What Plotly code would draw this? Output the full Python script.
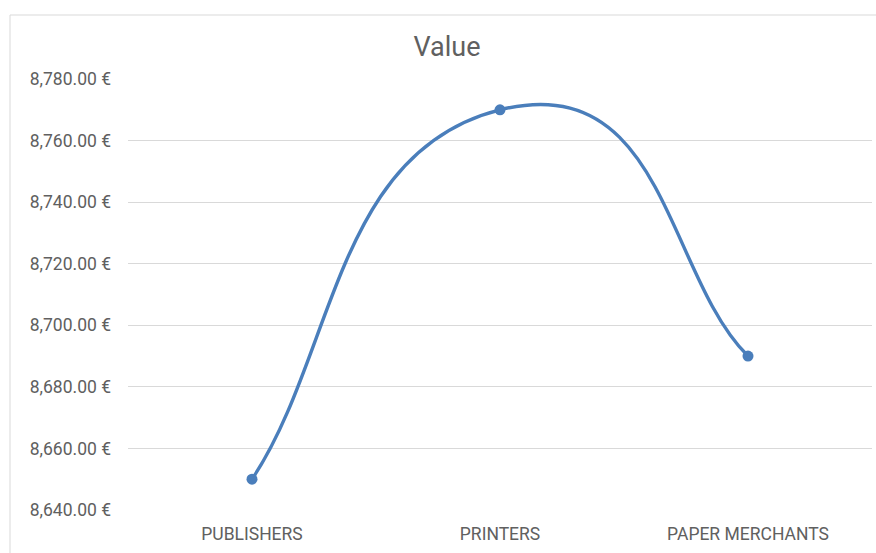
import plotly.graph_objects as go

categories = ["PUBLISHERS", "PRINTERS", "PAPER MERCHANTS"]
values = [8650, 8770, 8690]
y_ticks = [8640, 8660, 8680, 8700, 8720, 8740, 8760, 8780]
y_tick_text = [f"{v:,.2f} €" for v in y_ticks]

W, H = 876, 553
L, R, T, B = 128, 4, 79, 43
plot_w = W - L - R
plot_h = H - T - B
LINE_COLOR = "#4a7ebb"
TEXT_COLOR = "#606060"


def smooth_path(ys, k=1.0 / 3.0):
    """Cubic Bezier path through (index, value) points, Catmull-Rom style tangents,
    with endpoints repeated as their own neighbours."""
    pts = [(float(i), float(v)) for i, v in enumerate(ys)]
    n = len(pts)
    path = f"M {pts[0][0]},{pts[0][1]}"
    for i in range(n - 1):
        p_prev = pts[max(i - 1, 0)]
        p0, p1 = pts[i], pts[i + 1]
        p_next = pts[min(i + 2, n - 1)]
        c1 = (p0[0] + k * (p1[0] - p_prev[0]), p0[1] + k * (p1[1] - p_prev[1]))
        c2 = (p1[0] - k * (p_next[0] - p0[0]), p1[1] - k * (p_next[1] - p0[1]))
        path += f" C {c1[0]},{c1[1]} {c2[0]},{c2[1]} {p1[0]},{p1[1]}"
    return path


fig = go.Figure()
fig.add_trace(go.Scatter(
    x=categories,
    y=values,
    mode="markers",
    marker=dict(color=LINE_COLOR, size=11),
    hoverinfo="x+y",
    showlegend=False,
))

# smoothed series line, in data coordinates of the category axis
fig.add_shape(
    type="path", xref="x", yref="y",
    path=smooth_path(values),
    line=dict(color=LINE_COLOR, width=3.4),
    fillcolor="rgba(0,0,0,0)",
    layer="between",
)

# light frame around the chart area
fig.add_shape(
    type="rect", xref="paper", yref="paper",
    x0=(10 - L) / plot_w, x1=(W + 5 - L) / plot_w,
    y0=-(B + 5) / plot_h, y1=(H - B - 15) / plot_h,
    line=dict(color="#d9d9d9", width=1), fillcolor="rgba(0,0,0,0)", layer="below",
)

fig.update_layout(
    width=W, height=H,
    margin=dict(l=L, r=R, t=T, b=B),
    paper_bgcolor="white",
    plot_bgcolor="white",
    font=dict(family="Roboto, Arial, sans-serif", color=TEXT_COLOR),
    title=dict(text="Value", x=447 / W, xanchor="center", y=1 - 47 / H, yanchor="middle",
               font=dict(size=27, color=TEXT_COLOR)),
    xaxis=dict(
        type="category",
        range=[-0.5, 2.5],
        showgrid=False,
        showline=False,
        ticks="",
        tickfont=dict(size=17.5, color=TEXT_COLOR),
        ticklabelstandoff=11,
    ),
    yaxis=dict(
        range=[8640, 8780],
        tickvals=y_ticks,
        ticktext=y_tick_text,
        showgrid=True,
        gridcolor="#d9d9d9",
        gridwidth=1,
        zeroline=False,
        showline=False,
        ticks="",
        tickfont=dict(size=17.5, color=TEXT_COLOR),
        ticklabelstandoff=16,
    ),
)

fig.write_html("out.html")
